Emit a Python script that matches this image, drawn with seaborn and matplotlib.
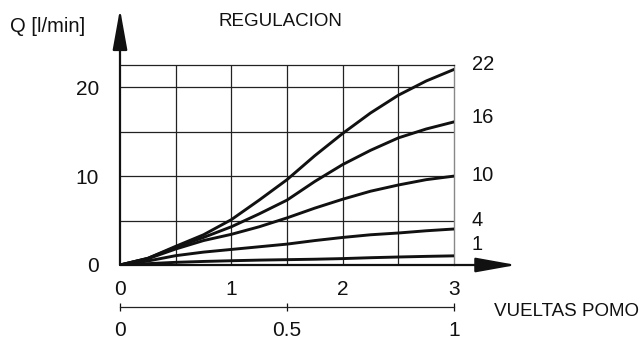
import matplotlib
matplotlib.use("Agg")
import matplotlib.pyplot as plt
import seaborn as sns
import pandas as pd

# ---- data ----
turns = [0, 0.25, 0.5, 0.75, 1, 1.25, 1.5, 1.75, 2, 2.25, 2.5, 2.75, 3]
q22 = [0, 0.75, 2.1, 3.4, 5.1, 7.3, 9.6, 12.3, 14.8, 17.1, 19.1, 20.7, 22.0]
q16 = [0, 0.75, 2.0, 3.1, 4.3, 5.75, 7.3, 9.4, 11.3, 12.9, 14.3, 15.3, 16.1]
q10 = [0, 0.7, 1.8, 2.75, 3.45, 4.3, 5.3, 6.4, 7.4, 8.3, 9.0, 9.6, 10.0]
q4 = [0, 0.45, 1.05, 1.45, 1.75, 2.05, 2.35, 2.75, 3.1, 3.4, 3.6, 3.85, 4.05]
q1 = [0, 0.15, 0.3, 0.4, 0.48, 0.55, 0.6, 0.65, 0.72, 0.82, 0.9, 0.97, 1.03]
series_names = ["22", "16", "10", "4", "1"]
series_values = [q22, q16, q10, q4, q1]
x_ticks = [0, 1, 2, 3]
y_ticks = [0, 10, 20]
sec_ticks = [0, 0.5, 1]
sec_labels = ["0", "0.5", "1"]

sns.set_theme(style="white")
plt.rcParams["font.family"] = ["Liberation Sans", "DejaVu Sans"]

fig = plt.figure(figsize=(6.42, 3.40), dpi=100)
W, H = 642, 340
ax = fig.add_axes([120 / W, (H - 265) / H, 334 / W, 200 / H])

df = pd.DataFrame({
    "x": turns * len(series_names),
    "y": sum(series_values, []),
    "s": sum([[n] * len(turns) for n in series_names], []),
})
sns.lineplot(data=df, x="x", y="y", hue="s", palette=["#111111"] * 5,
             linewidth=2.1, legend=False, ax=ax, zorder=3,
             solid_joinstyle="round", solid_capstyle="round")

ax.set_xlim(0, 3)
ax.set_ylim(0, 22.5)

# grid
for gx in [0.5, 1, 1.5, 2, 2.5]:
    ax.axvline(gx, color="#222222", lw=0.9, zorder=1)
for gy in [5, 10, 15, 20]:
    ax.axhline(gy, color="#222222", lw=0.9, zorder=1)

for s in ["left", "bottom"]:
    ax.spines[s].set_visible(False)
ax.spines["top"].set_color("#222222")
ax.spines["top"].set_linewidth(0.9)
ax.spines["right"].set_color("#888888")
ax.spines["right"].set_linewidth(1.0)

ax.set_xticks(x_ticks)
ax.set_xticklabels([str(t) for t in x_ticks])
ax.set_yticks(y_ticks)
ax.set_yticklabels([str(t) for t in y_ticks])
ax.tick_params(axis="x", length=0, pad=11, labelsize=15, colors="#111111")
ax.tick_params(axis="y", length=0, pad=15, labelsize=15, colors="#111111")
ax.set_xlabel("")
ax.set_ylabel("")

# axis arrows
arrow_kw = dict(arrowstyle="-|>,head_length=2.5,head_width=0.45",
                color="#111111", lw=1.6, shrinkA=0, shrinkB=0,
                mutation_scale=10)
ax.annotate("", xy=(3.56, 0), xytext=(0, 0), arrowprops=arrow_kw,
            annotation_clip=False, zorder=4)
ax.annotate("", xy=(0, 28.8), xytext=(0, 0), arrowprops=arrow_kw,
            annotation_clip=False, zorder=4)

# curve labels
for name, yl in zip(series_names, [22.6, 16.6, 10.1, 5.0, 2.3]):
    ax.text(3.16, yl, name, fontsize=14.5, ha="left", va="center",
            color="#111111", clip_on=False)

# secondary axis (knob turns)
sec = ax.secondary_xaxis(-0.21, functions=(lambda v: v / 3, lambda v: v * 3))
sec.set_xticks(sec_ticks)
sec.set_xticklabels(sec_labels)
sec.spines["bottom"].set_linewidth(0.9)
sec.spines["bottom"].set_color("#222222")
sec.tick_params(axis="x", direction="inout", length=6, width=0.9,
                pad=7, labelsize=15, colors="#111111")

fig.text(10 / W, 1 - 27 / H, "Q [l/min]", fontsize=14.5, ha="left",
         va="center", color="#111111")
fig.text(218 / W, 1 - 22 / H, "REGULACION", fontsize=13.5, ha="left",
         va="center", color="#111111")
fig.text(494 / W, 1 - 312 / H, "VUELTAS POMO", fontsize=13.5, ha="left",
         va="center", color="#111111")

fig.savefig("out.png", dpi=100, facecolor="white")
